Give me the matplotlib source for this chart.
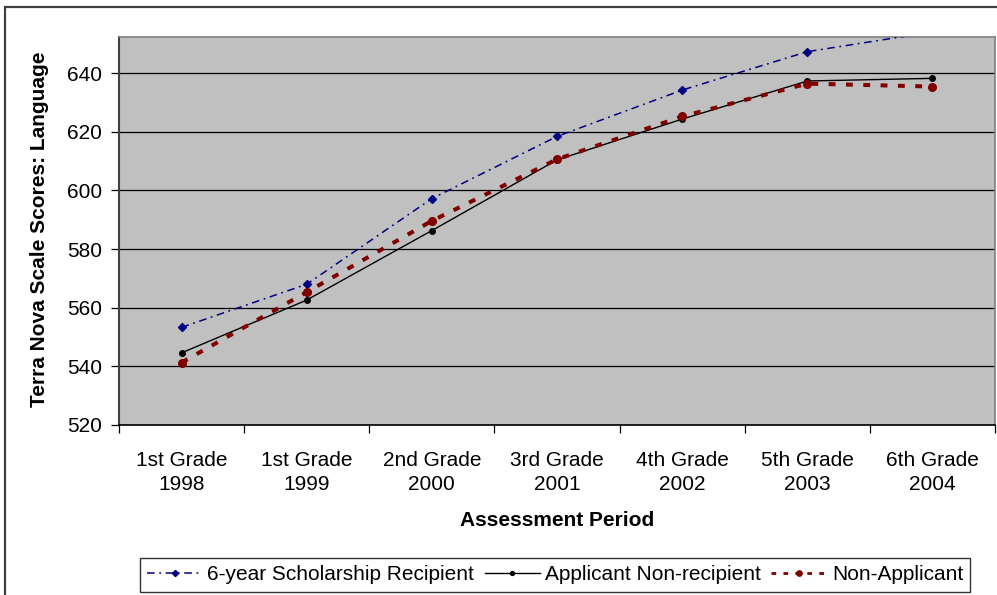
import matplotlib
matplotlib.use("Agg")
import matplotlib.pyplot as plt
import numpy as np
from matplotlib.patches import Rectangle
from matplotlib.lines import Line2D

plt.rcParams["font.family"] = ["Liberation Sans", "DejaVu Sans"]

periods = ["1st Grade\n1998", "1st Grade\n1999", "2nd Grade\n2000", "3rd Grade\n2001",
           "4th Grade\n2002", "5th Grade\n2003", "6th Grade\n2004"]
recipient = [553.3, 568.0, 597.2, 618.4, 634.2, 647.3, 654.0]
non_recipient = [544.6, 562.6, 586.3, 610.4, 624.3, 637.3, 638.2]
non_applicant = [541.3, 565.3, 589.6, 610.6, 625.2, 636.4, 635.4]
y_ticks = [520, 540, 560, 580, 600, 620, 640]

fig = plt.figure(figsize=(9.97, 5.95), dpi=100)
ax = fig.add_axes([119 / 997, 170 / 595, 876 / 997, 388 / 595])
ax.set_facecolor("#C0C0C0")

x = np.arange(len(periods))
series = [
    (recipient, "#000080", 1.1, (0, (5, 3, 1.2, 3)), "D", 4.5, "6-year Scholarship Recipient"),
    (non_recipient, "black", 1.0, "-", "o", 4.0, "Applicant Non-recipient"),
    (non_applicant, "#800000", 2.9, (0, (1.7, 2.6)), "o", 5.5, "Non-Applicant"),
]
handles = []
for vals, color, lw, ls, mk, ms, label in series:
    ax.plot(x, vals, color=color, lw=lw, linestyle=ls, marker=mk, ms=ms, zorder=3)
    handles.append(Line2D([], [], color=color, lw=min(lw, 2.0), linestyle=ls,
                          marker=mk, ms=ms * 0.7, label=label))

ax.set_xlim(-0.5, len(periods) - 0.5)
ax.set_ylim(520, 652.3)
ax.set_yticks(y_ticks)
ax.yaxis.grid(True, color="black", lw=0.9)
ax.set_axisbelow(True)
ax.tick_params(axis="y", direction="out", length=6, width=0.9, pad=6, labelsize=15)

ax.set_xticks(x)
ax.set_xticklabels(periods, fontsize=15, linespacing=1.3)
ax.set_xticks(np.arange(-0.5, len(periods)), minor=True)
ax.tick_params(axis="x", which="major", length=0, pad=19)
ax.tick_params(axis="x", which="minor", direction="out", length=6, width=0.9)

ax.spines["left"].set_color("#404040")
ax.spines["left"].set_linewidth(1.5)
ax.spines["bottom"].set_color("black")
ax.spines["bottom"].set_linewidth(1.2)
for s in ("top", "right"):
    ax.spines[s].set_color("#808080")
    ax.spines[s].set_linewidth(1.2)

fig.text(40 / 997, 1 - 229 / 595, "Terra Nova Scale Scores: Language", rotation=90,
         ha="center", va="center", fontsize=15, fontweight="bold")
fig.text(557 / 997, 1 - 520 / 595, "Assessment Period", ha="center", va="center",
         fontsize=15, fontweight="bold")

leg = fig.legend(handles=handles, loc="center", bbox_to_anchor=(555 / 997, 1 - 575 / 595),
                 ncol=3, fontsize=15, frameon=True, fancybox=False, edgecolor="black",
                 handlelength=2.65, handletextpad=0.25, columnspacing=0.5, borderpad=0.35,
                 borderaxespad=0)
leg.get_frame().set_linewidth(1.0)

fig.patches.append(Rectangle((5 / 997, -0.1), 1.2, 1 - 7 / 595 + 0.1,
                             transform=fig.transFigure, fill=False,
                             edgecolor="#404040", lw=1.6))

fig.savefig("out.png", dpi=100)
